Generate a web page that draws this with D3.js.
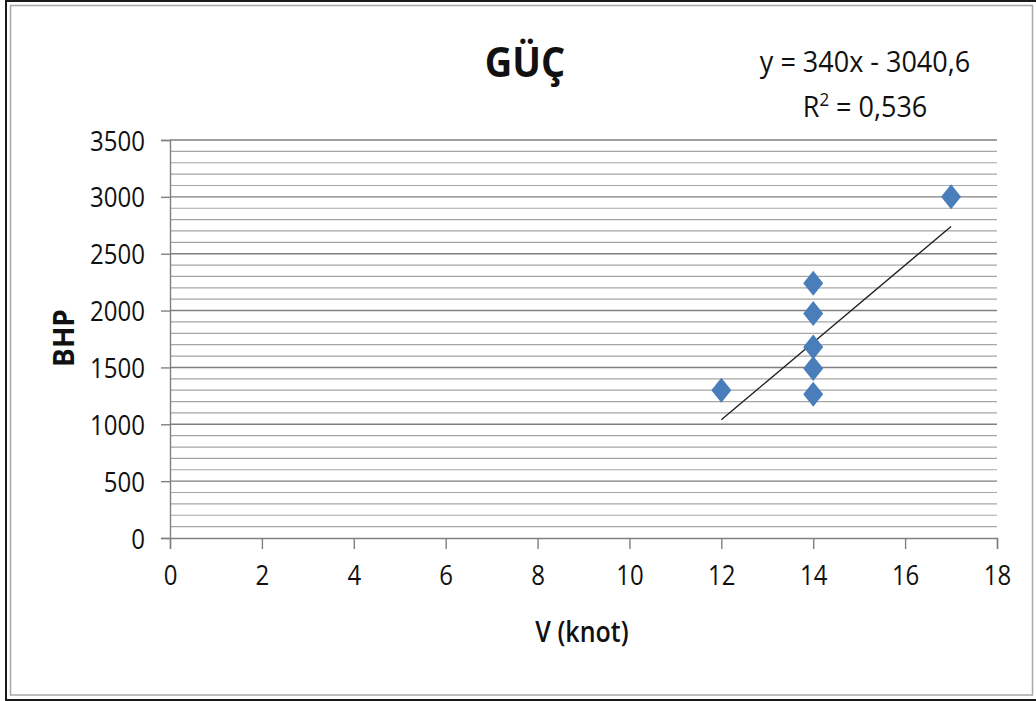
<!DOCTYPE html>
<html>
<head>
<meta charset="utf-8">
<script src="https://cdn.jsdelivr.net/npm/d3@7"></script>
<style>
  html, body { margin: 0; padding: 0; background: #fff; }
  svg { display: block; }
  text { font-family: "Open Sans", "DejaVu Sans", sans-serif; fill: #111; }
</style>
</head>
<body>
<svg id="chart" width="1036" height="701"></svg>
<script>
// Speed (knot) vs. brake horsepower measurements
const speedKnot = [12, 14, 14, 14, 14, 14, 17];
const powerBHP  = [1300, 2240, 1975, 1680, 1490, 1265, 3000];

// Linear trendline as reported on the chart
const trendSlope = 340;
const trendIntercept = -3040.6;
const trendRange = [12, 17];
const equationLabel = "y = 340x - 3040,6";
const r2Label = "0,536";

const xTicks = [0, 2, 4, 6, 8, 10, 12, 14, 16, 18];
const yTicks = [0, 500, 1000, 1500, 2000, 2500, 3000, 3500];
const yMinorStep = 100;

const titleText = "GÜÇ";
const xTitle = "V (knot)";
const yTitle = "BHP";

const svg = d3.select("#chart");

// Place a text at (px, py) with a slight vertical stretch (tall, narrow lettering)
function stretchText(sel, sy) {
  sel.each(function () {
    const t = d3.select(this);
    const px = +t.attr("x") || 0, py = +t.attr("y") || 0;
    t.attr("x", 0).attr("y", 0)
     .attr("transform", `translate(${px},${py}) scale(1,${sy})`);
  });
}

// Chart frame: outer dark border and inner grey border
svg.append("rect")
  .attr("x", 6).attr("y", 1).attr("width", 1040).attr("height", 699)
  .attr("fill", "#fff").attr("stroke", "#1a1a1a").attr("stroke-width", 2);
svg.append("rect")
  .attr("x", 10.5).attr("y", 5.5).attr("width", 1022).attr("height", 689.5)
  .attr("fill", "none").attr("stroke", "#a8a8a8").attr("stroke-width", 1.5);

const plot = { left: 170, right: 997, top: 140, bottom: 538 };

const x = d3.scaleLinear().domain([0, 18]).range([plot.left, plot.right]);
const y = d3.scaleLinear().domain([0, 3500]).range([plot.bottom, plot.top]);

// Minor horizontal gridlines every 100
const minorVals = d3.range(0, 3500 + 1, yMinorStep).filter(v => v % 500 !== 0);
svg.append("g")
  .selectAll("line").data(minorVals).join("line")
  .attr("x1", plot.left).attr("x2", plot.right)
  .attr("y1", d => y(d)).attr("y2", d => y(d))
  .attr("stroke", "#a6a6a6").attr("stroke-width", 1.2);

// Major horizontal gridlines every 500
svg.append("g")
  .selectAll("line").data(yTicks.filter(v => v > 0)).join("line")
  .attr("x1", plot.left).attr("x2", plot.right)
  .attr("y1", d => y(d)).attr("y2", d => y(d))
  .attr("stroke", "#7f7f7f").attr("stroke-width", 1.4);

// Axes
const yAxis = d3.axisLeft(y).tickValues(yTicks).tickSize(9).tickPadding(16).tickFormat(d3.format("d"));
const xAxis = d3.axisBottom(x).tickValues(xTicks).tickSize(11).tickPadding(14).tickFormat(d3.format("d"));

const gy = svg.append("g").attr("transform", `translate(${plot.left},0)`).call(yAxis);
const gx = svg.append("g").attr("transform", `translate(0,${plot.bottom})`).call(xAxis);

[gx, gy].forEach(g => {
  g.select(".domain").attr("stroke", "#808080").attr("stroke-width", 1.4);
  g.selectAll(".tick line").attr("stroke", "#808080").attr("stroke-width", 1.4);
  g.selectAll(".tick text")
    .attr("fill", "#111")
    .style("font-family", "'Open Sans', sans-serif")
    .style("font-size", "24px");
});
gy.selectAll(".tick text").attr("dy", "0.36em");
gx.selectAll(".tick text").attr("dy", "0.8em");
stretchText(gy.selectAll(".tick text"), 1.16);
stretchText(gx.selectAll(".tick text"), 1.16);

// Trendline
const trendY = v => trendSlope * v + trendIntercept;
svg.append("line")
  .attr("x1", x(trendRange[0])).attr("y1", y(trendY(trendRange[0])))
  .attr("x2", x(trendRange[1])).attr("y2", y(trendY(trendRange[1])))
  .attr("stroke", "#222").attr("stroke-width", 1.4);

// Diamond markers
const mw = 10, mh = 12.5;
const diamond = `M0,${-mh}L${mw},0L0,${mh}L${-mw},0Z`;
svg.append("g")
  .selectAll("path").data(speedKnot.map((s, i) => ({ s, p: powerBHP[i] }))).join("path")
  .attr("d", diamond)
  .attr("transform", d => `translate(${x(d.s)},${y(d.p)})`)
  .attr("fill", "#4a7ebb");

// Title
svg.append("text")
  .attr("x", 525).attr("y", 77)
  .attr("text-anchor", "middle")
  .style("font-size", "38px").style("font-weight", "700")
  .text(titleText)
  .call(stretchText, 1.1);

// Trendline equation and R²
svg.append("text")
  .attr("x", 865).attr("y", 72)
  .attr("text-anchor", "middle")
  .style("font-size", "27px")
  .text(equationLabel)
  .call(stretchText, 1.06);
const r2 = svg.append("text")
  .attr("x", 865).attr("y", 117)
  .attr("text-anchor", "middle")
  .style("font-size", "27px");
r2.append("tspan").text("R");
r2.append("tspan").attr("dy", -10).style("font-size", "17px").text("2");
r2.append("tspan").attr("dy", 10).text(" = " + r2Label);
stretchText(r2, 1.06);

// Axis titles
svg.append("text")
  .attr("x", 582).attr("y", 642)
  .attr("text-anchor", "middle")
  .style("font-size", "25px").style("font-weight", "600")
  .text(xTitle)
  .call(stretchText, 1.15);
svg.append("text")
  .attr("transform", "translate(74,338) rotate(-90)")
  .attr("text-anchor", "middle")
  .style("font-size", "28px").style("font-weight", "700")
  .text(yTitle);
</script>
</body>
</html>
